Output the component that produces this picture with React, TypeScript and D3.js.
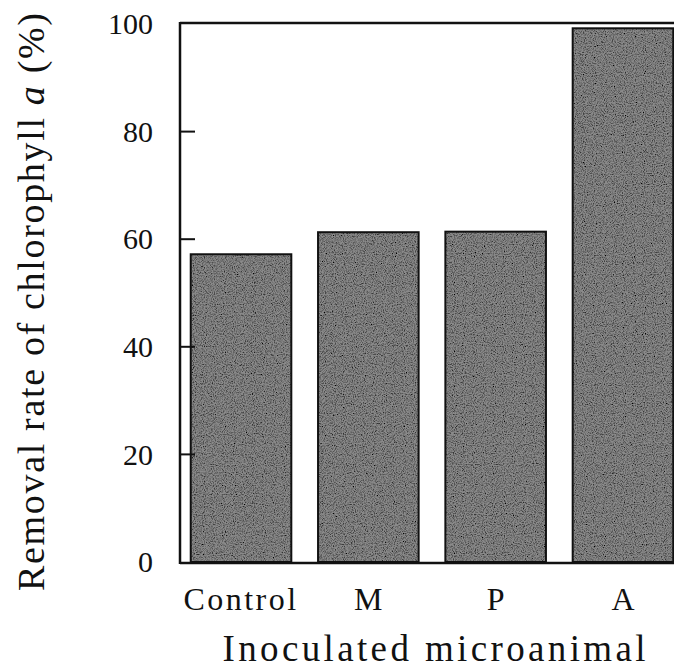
import React from "react";
import * as d3 from "d3";

const categories = ["Control", "M", "P", "A"];
const removalRates = [57.2, 61.3, 61.4, 99.2];
const yTicks = [0, 20, 40, 60, 80, 100];

const W = 674;
const H = 670;
const AX_LEFT = 180;
const AX_RIGHT = 674;
const AX_TOP = 23;
const AX_BOTTOM = 563;

export default function App() {
  const y = d3.scaleLinear().domain([0, 100]).range([562, 24]);
  const x = d3
    .scaleBand<string>()
    .domain(categories)
    .range([178, 686])
    .paddingInner(0.21)
    .paddingOuter(0.1);

  const font = "'Liberation Serif', 'Times New Roman', serif";

  return (
    <svg
      width={W}
      height={H}
      style={{ position: "absolute", left: 0, top: 0, display: "block", background: "#fff" }}
      fontFamily={font}
    >
      <defs>
        <filter id="grain" x="0" y="0" width="100%" height="100%">
          <feTurbulence type="fractalNoise" baseFrequency="0.9" numOctaves="2" seed="3" result="noise" />
          <feColorMatrix
            in="noise"
            type="matrix"
            values="0 0 0 0 0  0 0 0 0 0  0 0 0 0 0  0 0 0 -2.2 1.35"
            result="dots"
          />
          <feComposite in="dots" in2="SourceGraphic" operator="in" result="dotsIn" />
          <feMerge>
            <feMergeNode in="SourceGraphic" />
            <feMergeNode in="dotsIn" />
          </feMerge>
        </filter>
      </defs>

      {categories.map((c, i) => {
        const x0 = x(c)!;
        const bw = x.bandwidth();
        const yTop = y(removalRates[i]);
        const yBase = y(0);
        return (
          <g key={c}>
            <rect
              x={x0}
              y={yTop}
              width={bw}
              height={yBase - yTop}
              fill="#8a8a8a"
              filter="url(#grain)"
            />
            <rect
              x={x0}
              y={yTop}
              width={bw}
              height={yBase - yTop}
              fill="none"
              stroke="#111"
              strokeWidth={2}
            />
          </g>
        );
      })}

      {/* frame */}
      <line x1={AX_LEFT} x2={AX_RIGHT} y1={AX_TOP} y2={AX_TOP} stroke="#111" strokeWidth={2.5} />
      <line x1={AX_LEFT} x2={AX_LEFT} y1={AX_TOP - 1} y2={AX_BOTTOM + 1} stroke="#111" strokeWidth={2.5} />
      <line x1={AX_LEFT} x2={AX_RIGHT} y1={AX_BOTTOM} y2={AX_BOTTOM} stroke="#111" strokeWidth={2.5} />

      {/* y ticks */}
      {yTicks.map((t) => (
        <g key={t}>
          {t > 0 && t < 100 && (
            <line x1={AX_LEFT} x2={AX_LEFT + 15} y1={y(t)} y2={y(t)} stroke="#111" strokeWidth={2} />
          )}
          <text
            x={153}
            y={y(t)}
            dy="0.34em"
            textAnchor="end"
            fontSize={30}
            fill="#111"
          >
            {t}
          </text>
        </g>
      ))}

      {/* category labels */}
      {categories.map((c) => (
        <text
          key={c}
          x={x(c)! + x.bandwidth() / 2}
          y={610}
          textAnchor="middle"
          fontSize={32}
          fill="#111"
          letterSpacing={c === "Control" ? 2.5 : 0}
        >
          {c}
        </text>
      ))}

      {/* x axis title */}
      <text
        x={434}
        y={661}
        textAnchor="middle"
        fontSize={37}
        fill="#111"
        textLength={423}
        lengthAdjust="spacing"
      >
        Inoculated microanimal
      </text>

      {/* y axis title */}
      <text
        transform={`translate(44, 302) rotate(-90)`}
        textAnchor="middle"
        fontSize={38}
        fill="#111"
        textLength={578}
        lengthAdjust="spacing"
      >
        Removal rate of chlorophyll <tspan fontStyle="italic">a</tspan> (%)
      </text>
    </svg>
  );
}
